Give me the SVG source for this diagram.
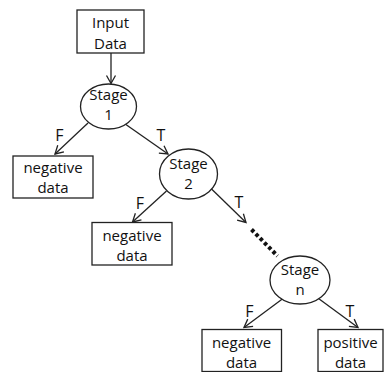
<svg xmlns="http://www.w3.org/2000/svg" width="388" height="372" viewBox="0 0 388 372">
<style>
.box{fill:#fff;stroke:#222;stroke-width:1.3}
.t{font-family:"Open Sans","Liberation Sans",sans-serif;font-size:15px;fill:#111;text-anchor:middle}
.l{font-family:"Open Sans","Liberation Sans",sans-serif;font-size:16px;fill:#111;text-anchor:middle}
.c{stroke:#222;stroke-width:1.3;fill:none}
</style>
<defs>
<marker id="ah" markerUnits="userSpaceOnUse" markerWidth="12" markerHeight="12" refX="8" refY="4.5" orient="auto" overflow="visible">
<path d="M0,0 L8,4.5 L0,9" fill="none" stroke="#222" stroke-width="1.3"/>
</marker>
</defs>
<rect width="388" height="372" fill="#fff"/>
<g id="connectors">
<line class="c" x1="111" y1="53" x2="111" y2="83.5" marker-end="url(#ah)"/>
<line class="c" x1="88" y1="123" x2="55" y2="154" marker-end="url(#ah)"/>
<line class="c" x1="123" y1="122.5" x2="168" y2="154" marker-end="url(#ah)"/>
<line class="c" x1="166.5" y1="191" x2="132.5" y2="222" marker-end="url(#ah)"/>
<line class="c" x1="210.5" y1="188" x2="246" y2="222.5" marker-end="url(#ah)"/>
<line x1="251.5" y1="229.5" x2="277.5" y2="256" stroke="#111" stroke-width="4" stroke-dasharray="3.5 2.6"/>
<line class="c" x1="283" y1="298.5" x2="244" y2="327.5" marker-end="url(#ah)"/>
<line class="c" x1="318.5" y1="298.5" x2="358" y2="327.5" marker-end="url(#ah)"/>
<text class="l" x="59.5" y="140.5">F</text>
<text class="l" x="161" y="140.5">T</text>
<text class="l" x="140" y="208.5">F</text>
<text class="l" x="239" y="208">T</text>
<text class="l" x="249.5" y="316.5">F</text>
<text class="l" x="350" y="316.5">T</text>
</g>
<g id="input">
<rect class="box" x="77" y="10" width="67" height="43"/>
<text class="t" x="110.5" y="28">Input</text>
<text class="t" x="110.5" y="48.5">Data</text>
</g>
<g id="stage1">
<ellipse class="box" cx="108.5" cy="106.5" rx="28" ry="22.5"/>
<text class="t" x="108.5" y="100">Stage</text>
<text class="t" x="108.5" y="120">1</text>
</g>
<g id="neg1">
<rect class="box" x="13" y="156" width="80" height="42"/>
<text class="t" x="53" y="172.5">negative</text>
<text class="t" x="53" y="192.5">data</text>
</g>
<g id="stage2">
<ellipse class="box" cx="188.5" cy="174" rx="29" ry="25"/>
<text class="t" x="188.5" y="168.5">Stage</text>
<text class="t" x="188.5" y="189">2</text>
</g>
<g id="neg2">
<rect class="box" x="92" y="222.5" width="80" height="42.5"/>
<text class="t" x="132" y="241">negative</text>
<text class="t" x="132" y="260.5">data</text>
</g>
<g id="stagen">
<ellipse class="box" cx="300" cy="280" rx="30" ry="24"/>
<text class="t" x="300" y="274.5">Stage</text>
<text class="t" x="300" y="294.5">n</text>
</g>
<g id="neg3">
<rect class="box" x="202" y="329.5" width="79.5" height="42"/>
<text class="t" x="241.5" y="348">negative</text>
<text class="t" x="241.5" y="367.5">data</text>
</g>
<g id="pos">
<rect class="box" x="318" y="329.5" width="65" height="42"/>
<text class="t" x="350.5" y="348">positive</text>
<text class="t" x="350.5" y="367.5">data</text>
</g>
</svg>
